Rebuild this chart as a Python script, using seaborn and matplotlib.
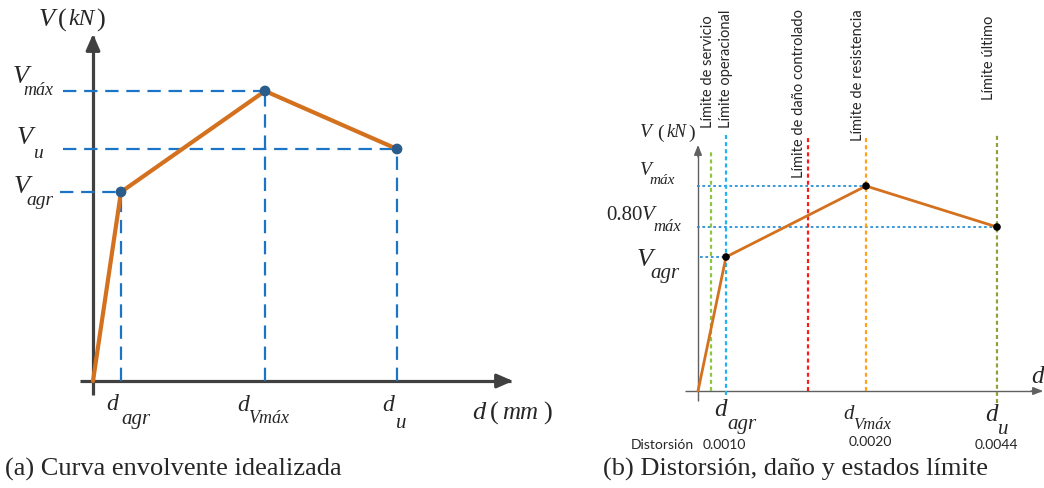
import matplotlib
matplotlib.use("Agg")
import matplotlib.pyplot as plt
import pandas as pd
import seaborn as sns

# (a) idealized envelope: displacement / shear in drawing units
d_left = [0, 28, 172, 304]
v_left = [0, 189, 290, 232]

# (b) distortion, damage and limit states
d_right = [0, 28, 168, 299]
v_right = [0, 134, 205, 164]
limit_names = ["Límite de servicio", "Límite operacional", "Límite de daño controlado",
               "Límite de resistencia", "Límite último"]
limit_pos = [13, 28, 110, 168, 299]
limit_colors = ["#8dc63f", "#1fb4ec", "#ff1a1a", "#ffa21a", "#8ea23c"]
distortion = ["0.0010", "0.0020", "0.0044"]

SERIF = "Liberation Serif"
SANS = "Lato"
ORANGE = "#d4711f"

sns.set_theme(style="white")
plt.rcParams["font.family"] = [SERIF, "DejaVu Sans"]

fig = plt.figure(figsize=(10.44, 4.89), dpi=100)
ax1 = fig.add_axes([0, 0, 530 / 1044, 1])
ax2 = fig.add_axes([530 / 1044, 0, 514 / 1044, 1])


def put(ax, pieces):
    # pieces: (x, y, text, size, italic)
    for x, y, t, size, it in pieces:
        ax.text(x, y, t, fontsize=size, style="italic" if it else "normal", family=SERIF,
                ha="center", va="center")


def axis_arrows(ax, x0, y0, xa, ya, color, lw, head):
    ax.plot([x0, xa - 2], [0, 0], color=color, lw=lw, solid_capstyle="butt")
    ax.plot([0, 0], [y0, ya - 2], color=color, lw=lw, solid_capstyle="butt")
    for tip, tail in [((xa, 0), (xa - 12, 0)), ((0, ya), (0, ya - 12))]:
        ax.annotate("", xy=tip, xytext=tail,
                    arrowprops=dict(arrowstyle=head, color=color, lw=lw, shrinkA=0, shrinkB=0))


# ---------- panel (a) ----------
axis_arrows(ax1, -13, -14, 420, 347, "#404040", 2.3, "-|>,head_length=0.8,head_width=0.35")
blue = "#1b74c5"
for x, y, x0 in zip(d_left[1:], v_left[1:], [-33, -30, -30]):
    ax1.plot([x0, x], [y, y], color=blue, lw=1.6, ls=(0, (6, 3.5)))
    ax1.plot([x, x], [0, y], color=blue, lw=1.6, ls=(0, (6, 3.5)))
df_left = pd.DataFrame({"d": d_left, "V": v_left})
sns.lineplot(data=df_left, x="d", y="V", sort=False, color=ORANGE, lw=3, ax=ax1, zorder=3)
sns.scatterplot(data=df_left.iloc[1:], x="d", y="V", color="#2a5d8c", s=60, ax=ax1, zorder=4,
                edgecolor="none")

put(ax1, [
    (-72, 305, "V", 19, True), (-55, 291, "máx", 13, True),
    (-68, 244, "V", 19, True), (-55, 228, "u", 14, True),
    (-71, 195, "V", 19, True), (-53, 181, "agr", 14, True),
    (19, -23, "d", 17, True), (43, -38, "agr", 15, True),
    (150, -24, "d", 17, True), (176, -37, "Vmáx", 13, True),
    (295, -24, "d", 17, True), (308, -42, "u", 15, True),
    (-46, 362, "V", 19, True), (-31, 362, "(", 19, False), (-12, 362, "kN", 17, True),
    (8, 362, ")", 19, False),
    (386, -31, "d", 19, True), (401, -31, "(", 19, False), (427, -31, "mm", 18, True),
    (455, -31, ")", 19, False),
])

# ---------- panel (b) ----------
axis_arrows(ax2, -13, -10, 345, 246, "#606060", 1.0, "-|>,head_length=0.5,head_width=0.2")
hblue = "#2a8fd6"
for x, y, x0 in zip(d_right[1:], v_right[1:], [2, -1, -1]):
    ax2.plot([x0, x], [y, y], color=hblue, lw=1.3, ls=(0, (1.5, 1.5)))
for x, c, name, ytop, ybot, lab_dx, lab_bot in zip(limit_pos, limit_colors, limit_names,
                                                   [241, 257, 254, 254, 257], [0, -4, 0, 0, -12],
                                                   [-3, 0, -9, -8, -8],
                                                   [264, 264, 214, 251, 292]):
    ax2.plot([x, x], [ybot, ytop], color=c, lw=1.6, ls=(0, (1.8, 1.4)), zorder=2)
    ax2.text(x + lab_dx, lab_bot, name, rotation=90, family=SANS, fontsize=10.5,
             ha="center", va="bottom")
df_right = pd.DataFrame({"d": d_right, "V": v_right})
sns.lineplot(data=df_right, x="d", y="V", sort=False, color=ORANGE, lw=2, ax=ax2, zorder=3)
sns.scatterplot(data=df_right.iloc[1:], x="d", y="V", color="black", s=30, ax=ax2, zorder=4,
                edgecolor="none")

put(ax2, [
    (-52, 259, "V", 14, True), (-38, 259, "(", 14, False), (-22, 259, "kN", 13, True),
    (-6, 259, ")", 14, False),
    (-52, 221, "V", 14, True), (-36, 211, "máx", 11, True),
    (-74, 176, "0.80", 15, False), (-50, 176, "V", 15, True), (-31, 165, "máx", 12, True),
    (-53, 132, "V", 19, True), (-33, 118, "agr", 15, True),
    (22, -18, "d", 18, True), (44, -33, "agr", 15, True),
    (151, -23, "d", 15, True), (174, -33, "Vmáx", 12, True),
    (293, -23, "d", 18, True), (305, -38, "u", 15, True),
    (339, 15, "d", 18, True),
])
ax2.text(-36, -53, "Distorsión", family=SANS, fontsize=10, ha="center", va="center")
for x, dx, y, t in zip(d_right[1:], [-2, 4, -1], [-53, -50, -53], distortion):
    ax2.text(x + dx, y, t, family=SANS, fontsize=10, ha="center", va="center")

for ax, xl, yl in [(ax1, (-93, 437), (-107, 382)), (ax2, (-168, 346), (-97, 392))]:
    ax.set_xlim(*xl)
    ax.set_ylim(*yl)
    ax.axis("off")

fig.text(5 / 1044, 1 - 469 / 489, "(a) Curva envolvente idealizada", fontsize=19, ha="left", va="center")
fig.text(603 / 1044, 1 - 469 / 489, "(b) Distorsión, daño y estados límite", fontsize=19,
         ha="left", va="center")

fig.savefig("out.png", dpi=100)
